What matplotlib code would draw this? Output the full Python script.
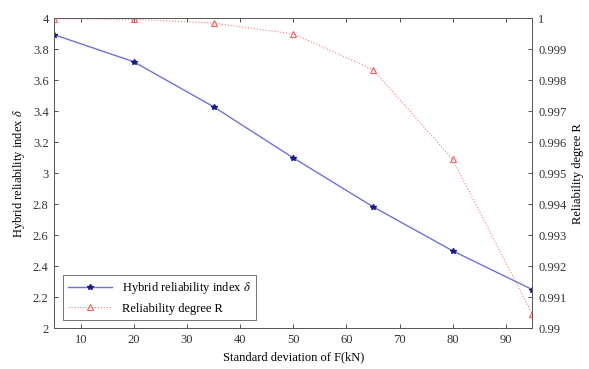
import matplotlib.pyplot as plt
import numpy as np

plt.rcParams['font.family'] = ['Liberation Serif', 'DejaVu Serif']
plt.rcParams['mathtext.fontset'] = 'stix'

# data
sd_F = [5, 20, 35, 50, 65, 80, 95]
delta = [3.895, 3.72, 3.43, 3.10, 2.785, 2.50, 2.25]
R = [0.99999, 0.99997, 0.99985, 0.9995, 0.99835, 0.99545, 0.99045]

fig = plt.figure(figsize=(5.89, 3.69), dpi=100)
ax = fig.add_axes([0.092, 0.11, 0.812, 0.84])
ax2 = ax.twinx()

l1, = ax.plot(sd_F, delta, color='#7070e0', lw=1.0, marker='*', ms=4,
              mfc='#1a1a8a', mec='#1a1a8a', label=r'Hybrid reliability index $\delta$')
l2, = ax2.plot(sd_F, R, color='#f08080', lw=0.8, ls=':', marker='^', ms=5,
               mfc='none', mec='#f06060', mew=0.8, label='Reliability degree R')

ax.set_xlim(5, 95)
ax.set_ylim(2, 4)
ax.set_xticks(np.arange(10, 100, 10))
ax.set_yticks(np.arange(2, 4.01, 0.2))
ax.set_yticklabels(['2', '2.2', '2.4', '2.6', '2.8', '3', '3.2', '3.4', '3.6', '3.8', '4'])
ax2.set_ylim(0.99, 1.0)
ax2.set_yticks(np.arange(0.99, 1.00001, 0.001))
ax2.set_yticklabels(['0.99'] + ['%.3f' % v for v in np.arange(0.991, 0.9995, 0.001)] + ['1'])

for a in (ax, ax2):
    a.tick_params(direction='in', labelsize=9, length=3, width=0.6, colors='#333333', pad=4)
    for s in a.spines.values():
        s.set_linewidth(0.6)
        s.set_color('#555555')
ax.tick_params(top=True)

ax.set_xlabel('Standard deviation of F(kN)', fontsize=9, labelpad=4)
ax.set_ylabel(r'Hybrid reliability index $\delta$', fontsize=9, labelpad=4)
ax2.set_ylabel('Reliability degree R', fontsize=9, labelpad=4)

leg = ax.legend(handles=[l1, l2], loc='lower left', fontsize=9, fancybox=False,
                edgecolor='#333333', borderaxespad=0.7, handlelength=3.5)
leg.get_frame().set_linewidth(0.6)

fig.savefig('out.png', dpi=100)
